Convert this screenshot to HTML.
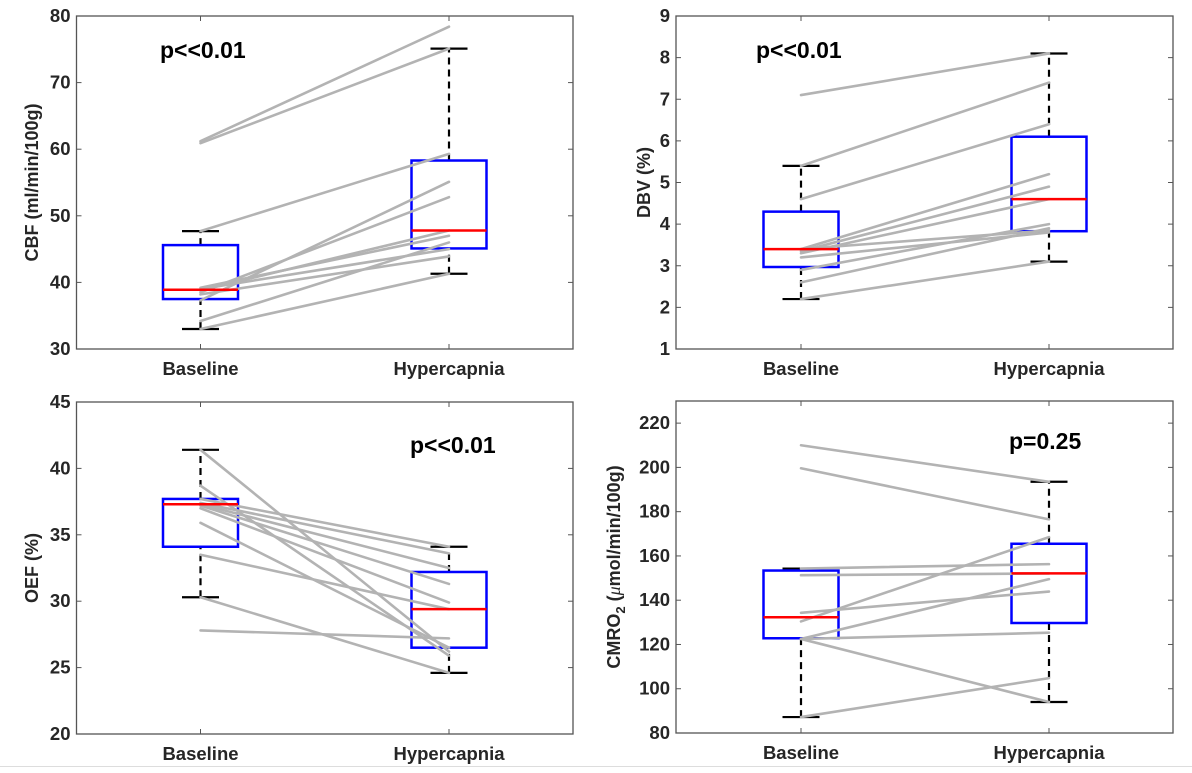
<!DOCTYPE html>
<html><head><meta charset="utf-8"><style>
body{margin:0;background:#fff;width:1192px;height:768px;overflow:hidden}
svg text{font-family:"Liberation Sans",Arial,sans-serif}
</style></head><body>
<svg id="fig" width="1192" height="768" xmlns="http://www.w3.org/2000/svg"></svg>
<script>
// ---- data ----
const groups = ["Baseline","Hypercapnia"];
const cbfBase  = [61.2,60.9,47.7,39.2,39.0,38.8,38.5,38.2,37.3,34.2,33.0];
const cbfHyper = [78.4,75.1,59.3,47.0,45.0,47.8,52.8,43.9,55.1,46.0,41.3];
const cbfBox = [[33.0,37.5,38.9,45.6,47.7],[41.3,45.1,47.8,58.3,75.1]];
const dbvBase  = [7.1,5.4,4.6,3.4,3.35,3.3,3.4,3.2,2.9,2.6,2.2];
const dbvHyper = [8.1,7.4,6.4,5.2,4.9,4.6,3.85,3.8,4.0,3.9,3.1];
const dbvBox = [[2.2,2.97,3.4,4.3,5.4],[3.1,3.83,4.6,6.1,8.1]];
const oefBase  = [41.4,38.7,37.7,37.4,37.3,37.2,37.0,35.9,33.5,30.3,27.8];
const oefHyper = [26.2,25.9,34.1,33.6,32.5,31.3,29.9,26.5,29.4,24.6,27.2];
const oefBox = [[30.3,34.1,37.3,37.7,41.4],[24.6,26.5,29.4,32.2,34.1]];
const cmrBase  = [210,199.6,154.3,151.3,134.3,130.4,122.5,122.5,122.5,87.2];
const cmrHyper = [193.5,176.5,156.3,152.1,143.9,168.5,149.5,125.3,94,104.8];
const cmrBox = [[87.2,122.8,132.3,153.4,154.3],[94,129.7,152.1,165.5,193.5]];
const cbfTicks = [30,40,50,60,70,80];
const dbvTicks = [1,2,3,4,5,6,7,8,9];
const oefTicks = [20,25,30,35,40,45];
const cmrTicks = [80,100,120,140,160,180,200,220];

const NS="http://www.w3.org/2000/svg";
const svg=document.getElementById('fig');
function mk(tag,attrs,parent){const e=document.createElementNS(NS,tag);for(const k in attrs)e.setAttribute(k,attrs[k]);(parent||svg).appendChild(e);return e;}

function panel(o){
  const g=mk('g',{});
  
  
  const L=o.l,R=o.r,T=o.t,B=o.b;
  const y=v=>B-(v-o.ymin)/(o.ymax-o.ymin)*(B-T);
  const xs=[o.xb,o.xh];
  const ax=mk('rect',{x:L,y:T,width:R-L,height:B-T,fill:'none',stroke:'#555',"stroke-width":1.3},g);
  
  
  o.ticks.forEach(t=>{
    const yy=y(t);
    mk('line',{x1:L,x2:L+5,y1:yy,y2:yy,stroke:'#555'},g);
    mk('line',{x1:R,x2:R-5,y1:yy,y2:yy,stroke:'#555'},g);
    const tx=mk('text',{x:L-6,y:yy+6,"text-anchor":"end","font-size":18.5,"font-weight":"bold",fill:'#262626'},g);
    tx.textContent=t;
    
    
  });
  groups.forEach((gn,i)=>{
    mk('line',{x1:xs[i],x2:xs[i],y1:B,y2:B-5,stroke:'#555'},g);
    mk('line',{x1:xs[i],x2:xs[i],y1:T,y2:T+5,stroke:'#555'},g);
    const tx=mk('text',{x:xs[i],y:B+26,"text-anchor":"middle","font-size":18.5,"font-weight":"bold",fill:'#262626'},g);
    tx.textContent=gn;
    
    
  });
  o.box.forEach((s,i)=>{
    const x=xs[i],hw=37.5,cw=18.5;
    const w1=mk('line',{x1:x,x2:x,y1:y(s[0]),y2:y(s[1]),stroke:'#000',"stroke-width":2.2,"stroke-dasharray":"7,5"},g);
    
    
    const w2=mk('line',{x1:x,x2:x,y1:y(s[3]),y2:y(s[4]),stroke:'#000',"stroke-width":2.2,"stroke-dasharray":"7,5"},g);
    
    
    [s[0],s[4]].forEach(v=>{
      const c=mk('line',{x1:x-cw,x2:x+cw,y1:y(v),y2:y(v),stroke:'#000',"stroke-width":2.2},g);
      
      
    });
    const r=mk('rect',{x:x-hw,y:y(s[3]),width:2*hw,height:y(s[1])-y(s[3]),fill:'none',stroke:'#0000ff',"stroke-width":2.5},g);
    
    
  });
  o.base.forEach((v,i)=>{
    const ln=mk('line',{x1:xs[0],x2:xs[1],y1:y(v),y2:y(o.hyper[i]),stroke:'#b3b3b3',"stroke-width":2.6,"stroke-linecap":"round"},g);
    
    
  });
  o.box.forEach((s,i)=>{
    const m=mk('line',{x1:xs[i]-37.5,x2:xs[i]+37.5,y1:y(s[2]),y2:y(s[2]),stroke:'#ff0000',"stroke-width":2.5},g);
    
    
  });
  const p=mk('text',{x:o.px,y:o.py,"font-size":23,"font-weight":"bold",fill:'#000'},g);
  p.textContent=o.p;
  
  
  const yl=mk('text',{x:0,y:0,transform:`translate(${o.ylx},${(T+B)/2}) rotate(-90)`,"text-anchor":"middle","font-size":18,"font-weight":"bold",fill:'#262626'},g);
  
  
  if(o.cmro){
    yl.innerHTML='CMRO<tspan font-size="13" dy="5">2</tspan><tspan dy="-5"> (</tspan><tspan font-style="italic" font-weight="normal" font-family="Liberation Serif">μ</tspan><tspan>mol/min/100g)</tspan>';
  } else yl.textContent=o.ylabel;
}
panel({name:'cbf-panel',l:76.5,r:573,t:16,b:349,xb:200.5,xh:449,ymin:30,ymax:80,ticks:cbfTicks,base:cbfBase,hyper:cbfHyper,box:cbfBox,p:'p<<0.01',px:160,py:58,ylabel:'CBF (ml/min/100g)',ylx:38});
panel({name:'dbv-panel',l:676,r:1173,t:16,b:349,xb:801,xh:1049,ymin:1,ymax:9,ticks:dbvTicks,base:dbvBase,hyper:dbvHyper,box:dbvBox,p:'p<<0.01',px:756,py:58,ylabel:'DBV (%)',ylx:650});
panel({name:'oef-panel',l:76.5,r:573,t:402,b:734,xb:200.5,xh:449,ymin:20,ymax:45,ticks:oefTicks,base:oefBase,hyper:oefHyper,box:oefBox,p:'p<<0.01',px:410,py:453,ylabel:'OEF (%)',ylx:38});
panel({name:'cmro2-panel',l:676,r:1173,t:401,b:733,xb:801,xh:1049,ymin:80,ymax:230,ticks:cmrTicks,base:cmrBase,hyper:cmrHyper,box:cmrBox,p:'p=0.25',px:1009,py:449,cmro:true,ylx:620});
mk('line',{x1:0,x2:1192,y1:766.5,y2:766.5,stroke:'#ddd'});
</script>
</body></html>
